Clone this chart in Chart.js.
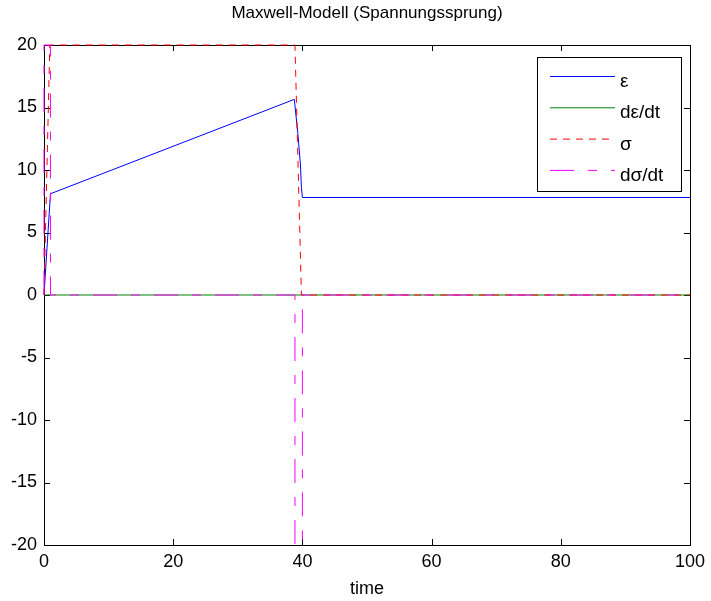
<!DOCTYPE html>
<html>
<head>
<meta charset="utf-8">
<title>Maxwell-Modell</title>
<script src="https://cdn.jsdelivr.net/npm/chart.js@4/dist/chart.umd.min.js"></script>
<style>
  html, body { margin: 0; padding: 0; background: #fff; }
  canvas { display: block; }
</style>
</head>
<body>
<canvas id="maxwellChart" width="711" height="601"></canvas>
<script>
// strain epsilon over time
const epsTime = [0, 1, 38.75, 39.3, 39.7, 39.85, 40, 100];
const epsVals = [0, 8.1, 15.65, 12.9, 10.4, 8.6, 7.8, 7.8];
// strain rate
const depsTime = [0, 100];
const depsVals = [0, 0];
// stress sigma (step up, hold, step down)
const sigTime = [0, 0.9, 38.85, 39.85, 100];
const sigVals = [0, 20, 20, 0, 0];
// stress rate
const dsigTime = [0, 0, 1, 1, 38.85, 38.85, 40, 40, 100];
const dsigVals = [0, 20, 20, 0, 0, -20, -20, 0, 0];

const xTicks = [0, 20, 40, 60, 80, 100];
const yTicks = [-20, -15, -10, -5, 0, 5, 10, 15, 20];

const FONT = 'Liberation Sans, Arial, Helvetica, sans-serif';

function pts(t, v) {
    return t.map((x, i) => ({ x: x, y: v[i] }));
}

function series(label, t, v, color, dash, order) {
    return {
        label: label,
        data: pts(t, v),
        borderColor: color,
        backgroundColor: color,
        borderWidth: 1,
        borderDash: dash,
        pointRadius: 0,
        showLine: true,
        tension: 0,
        clip: false,
        order: order
    };
}

// axes box with inward tick marks (drawn under the curves)
const boxPlugin = {
    id: 'boxPlugin',
    beforeDatasetsDraw(chart) {
        const ctx = chart.ctx;
        const a = chart.chartArea;
        const xs = chart.scales.x, ys = chart.scales.y;
        const len = 6;
        ctx.save();
        ctx.strokeStyle = '#000';
        ctx.lineWidth = 1;
        ctx.setLineDash([]);
        ctx.beginPath();
        xTicks.forEach(v => {
            const px = Math.round(xs.getPixelForValue(v)) + 0.5;
            ctx.moveTo(px, a.bottom); ctx.lineTo(px, a.bottom - len);
            ctx.moveTo(px, a.top); ctx.lineTo(px, a.top + len);
        });
        yTicks.forEach(v => {
            const py = Math.round(ys.getPixelForValue(v)) + 0.5;
            ctx.moveTo(a.left, py); ctx.lineTo(a.left + len, py);
            ctx.moveTo(a.right, py); ctx.lineTo(a.right - len, py);
        });
        ctx.stroke();
        ctx.strokeRect(Math.round(a.left) + 0.5, Math.round(a.top) + 0.5,
            Math.round(a.right - a.left), Math.round(a.bottom - a.top));
        ctx.restore();
    }
};

// boxed legend in the upper right corner of the plot
const legendBox = {
    id: 'legendBox',
    afterDraw(chart) {
        const ctx = chart.ctx;
        const a = chart.chartArea;
        const x0 = a.right - 153, y0 = a.top + 12;
        const w = 144, h = 134;
        ctx.save();
        ctx.fillStyle = '#fff';
        ctx.fillRect(x0, y0, w, h);
        ctx.strokeStyle = '#000';
        ctx.lineWidth = 1;
        ctx.setLineDash([]);
        ctx.strokeRect(x0 + 0.5, y0 + 0.5, w, h);
        ctx.font = '19px ' + FONT;
        ctx.textBaseline = 'alphabetic';
        chart.data.datasets.forEach((ds, i) => {
            const ly = y0 + 19.5 + i * 31.3;
            ctx.strokeStyle = ds.borderColor;
            ctx.setLineDash(ds.borderDash || []);
            ctx.beginPath();
            ctx.moveTo(x0 + 13, ly);
            ctx.lineTo(x0 + 78, ly);
            ctx.stroke();
            ctx.fillStyle = '#000';
            ctx.fillText(ds.label, x0 + 83, ly + 10.5);
        });
        ctx.restore();
    }
};

new Chart(document.getElementById('maxwellChart'), {
    type: 'scatter',
    data: {
        datasets: [
            series('ε', epsTime, epsVals, '#0000ff', [], 4),
            series('dε/dt', depsTime, depsVals, '#008000', [], 3),
            series('σ', sigTime, sigVals, '#ff0000', [7, 6], 2),
            series('dσ/dt', dsigTime, dsigVals, '#ff00ff', [24, 14, 9, 14], 1)
        ]
    },
    options: {
        responsive: false,
        animation: false,
        devicePixelRatio: 1,
        layout: { padding: { left: 0, right: 20, top: 0, bottom: 0 } },
        plugins: {
            legend: { display: false },
            tooltip: { enabled: false },
            title: {
                display: true,
                fullSize: false,
                text: 'Maxwell-Modell (Spannungssprung)',
                color: '#000',
                font: { family: FONT, size: 17, weight: 'normal' },
                padding: { top: 3, bottom: 21.6 }
            }
        },
        scales: {
            x: {
                type: 'linear',
                min: 0,
                max: 100,
                afterFit(scale) { scale.height = 56; },
                afterBuildTicks(scale) { scale.ticks = xTicks.map(v => ({ value: v })); },
                grid: { display: false, drawTicks: false },
                border: { display: false },
                ticks: {
                    color: '#000',
                    padding: 6,
                    font: { family: FONT, size: 18 }
                },
                title: {
                    display: true,
                    text: 'time',
                    color: '#000',
                    font: { family: FONT, size: 18 },
                    padding: { top: 0, bottom: 1 }
                }
            },
            y: {
                type: 'linear',
                min: -20,
                max: 20,
                afterFit(scale) { scale.width = 44; },
                afterBuildTicks(scale) { scale.ticks = yTicks.map(v => ({ value: v })); },
                grid: { display: false, drawTicks: false },
                border: { display: false },
                ticks: {
                    color: '#000',
                    padding: 7,
                    font: { family: FONT, size: 18 }
                }
            }
        }
    },
    plugins: [boxPlugin, legendBox]
});
</script>
</body>
</html>
